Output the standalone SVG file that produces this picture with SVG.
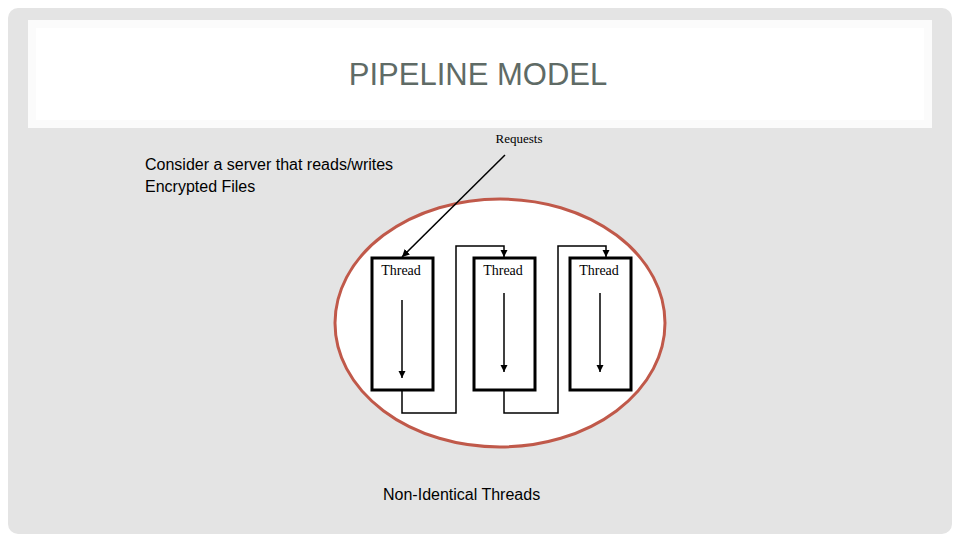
<svg xmlns="http://www.w3.org/2000/svg" width="960" height="540" viewBox="0 0 960 540">
<defs>
<marker id="ah" viewBox="0 0 10 10" refX="10" refY="5" markerWidth="5" markerHeight="5" orient="auto"><path d="M0,0 L10,5 L0,10 z" fill="#000"/></marker>
<style>
.box{fill:#fff;stroke:#000;stroke-width:3}
.ln{fill:none;stroke:#000;stroke-width:1.5}
.th{font-family:"Liberation Serif",serif;font-size:14px;fill:#000}
.sans{font-family:"Liberation Sans",sans-serif;font-size:16px;fill:#000}
</style>
</defs>
<rect width="960" height="540" fill="#fff"/>
<rect x="8" y="8" width="944" height="526" rx="10" fill="#e4e4e4"/>
<rect x="28" y="20" width="904" height="108" fill="#fbfbfb"/>
<rect x="36" y="28" width="888" height="92" fill="#fff"/>
<text x="478" y="85" text-anchor="middle" font-family="Liberation Sans,sans-serif" font-size="31" fill="#5f6b66">PIPELINE MODEL</text>
<text x="145" y="170" class="sans">Consider a server that reads/writes</text>
<text x="145" y="192" class="sans">Encrypted Files</text>
<ellipse id="pool" cx="500" cy="323" rx="165" ry="124" fill="#fff" stroke="#c0594a" stroke-width="3"/>
<g id="t1"><rect x="372" y="258" width="61" height="132" class="box"/><text x="401" y="275" text-anchor="middle" class="th">Thread</text></g>
<g id="t2"><rect x="474" y="258" width="61" height="132" class="box"/><text x="503" y="275" text-anchor="middle" class="th">Thread</text></g>
<g id="t3"><rect x="570" y="258" width="61" height="132" class="box"/><text x="599" y="275" text-anchor="middle" class="th">Thread</text></g>
<text x="383" y="500" class="sans">Non-Identical Threads</text>
<text x="519" y="143" text-anchor="middle" font-family="Liberation Serif,serif" font-size="13">Requests</text>
<g id="connectors">
<line x1="505" y1="155" x2="402" y2="257" class="ln" marker-end="url(#ah)"/>
<path d="M402,390 V413 H456 V246 H504 V257" class="ln" marker-end="url(#ah)"/>
<path d="M504,390 V413 H558 V246 H606 V257" class="ln" marker-end="url(#ah)"/>
<line x1="402" y1="300" x2="402" y2="378" class="ln" marker-end="url(#ah)"/>
<line x1="504" y1="293" x2="504" y2="372" class="ln" marker-end="url(#ah)"/>
<line x1="600" y1="293" x2="600" y2="372" class="ln" marker-end="url(#ah)"/>
</g>
</svg>
